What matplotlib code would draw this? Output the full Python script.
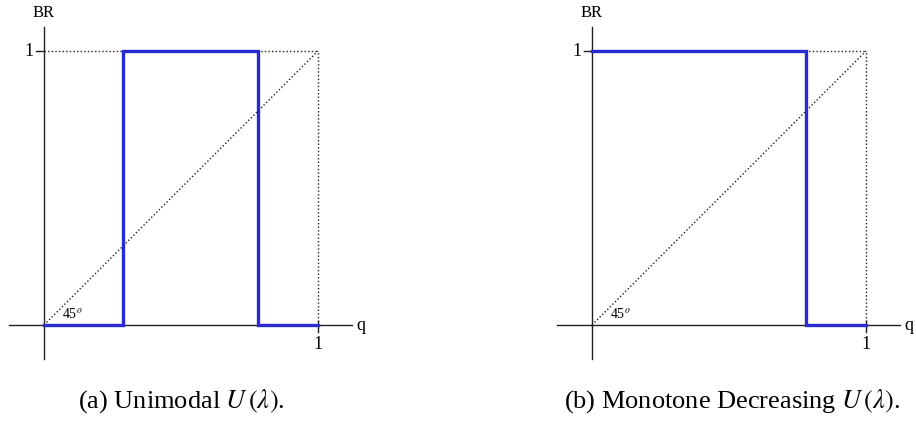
import matplotlib
matplotlib.use('Agg')
import matplotlib.pyplot as plt

# best-response step functions
q_unimodal = [0.0, 0.29, 0.29, 0.78, 0.78, 1.0]
br_unimodal = [0, 0, 1, 1, 0, 0]
q_decreasing = [0.0, 0.78, 0.78, 1.0]
br_decreasing = [1, 1, 0, 0]
captions = ['(a) Unimodal $U\\,(\\lambda)$.', '(b) Monotone Decreasing $U\\,(\\lambda)$.']

plt.rcParams['font.family'] = ['Liberation Serif', 'DejaVu Serif']
plt.rcParams['mathtext.fontset'] = 'stix'

W, H = 916, 425
fig = plt.figure(figsize=(W / 100, H / 100), dpi=100)

S = 274.0  # pixels per unit


def panel(left_px, q, br, caption, cap_x):
    ax = fig.add_axes([left_px / W, (H - 370) / H, 360 / W, 370 / H])
    ax.set_xlim(-44 / S, 316 / S)
    ax.set_ylim(-45 / S, 325 / S)
    ax.axis('off')
    # axes
    ax.plot([-35 / S, 308 / S], [0, 0], color='#222222', lw=1.0)
    ax.plot([0, 0], [-34 / S, 298 / S], color='#222222', lw=1.0)
    ax.text(308 / S + 4 / S, 0, 'q', fontsize=13, va='center', ha='left')
    ax.text(0, 304 / S, 'BR', fontsize=12, ha='center', va='bottom')
    # ticks
    ax.plot([-8 / S, 0], [1, 1], color='#222222', lw=1.0)
    ax.text(-10 / S, 1, '1', fontsize=13, ha='right', va='center')
    ax.plot([1, 1], [4 / S, -7 / S], color='#222222', lw=1.0)
    ax.text(1, -11 / S, '1', fontsize=13, ha='center', va='top')
    # dotted guides
    dot = dict(color='#222222', lw=1.0, ls=(0, (1, 1.6)))
    ax.plot([0, 1], [1, 1], **dot)
    ax.plot([1, 1], [0, 1], **dot)
    ax.plot([0, 1], [0, 1], **dot)
    ax.text(18 / S, 4 / S, '45$^o$', fontsize=10, ha='left', va='bottom')
    # best response
    ax.plot(q, br, color='#2a2ad2', lw=2.4, solid_joinstyle='miter')
    fig.text(cap_x / W, 1 - 401 / H, caption, fontsize=19, ha='center', va='center')


panel(0, q_unimodal, br_unimodal, captions[0], 181)
panel(548, q_decreasing, br_decreasing, captions[1], 732)

fig.savefig('out.png', dpi=100)
